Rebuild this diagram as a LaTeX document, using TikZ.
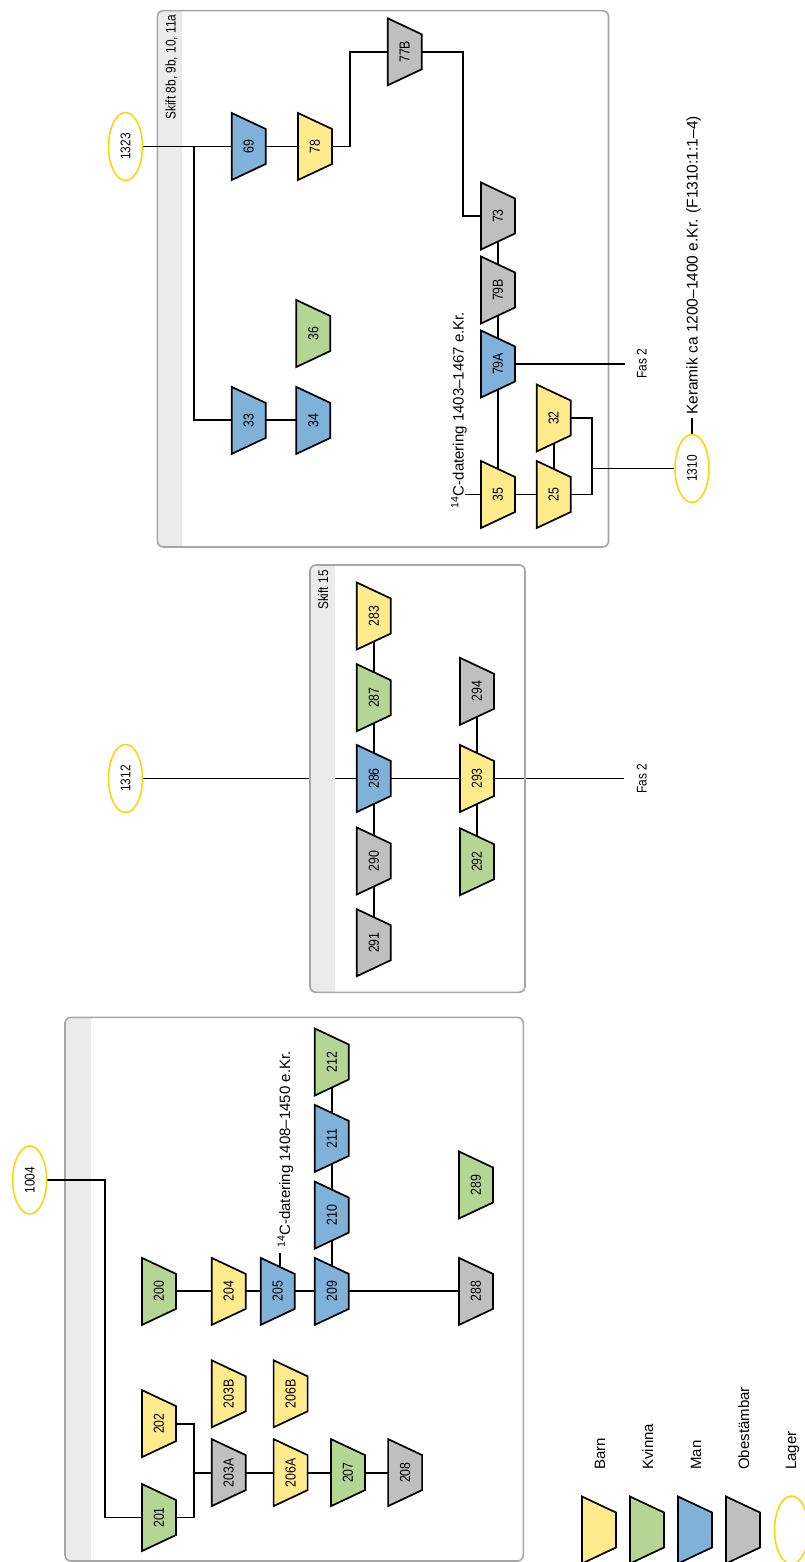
\documentclass[tikz,border=0pt]{standalone}
\usepackage{fontspec}
\setmainfont{Liberation Sans}
\newfontfamily\narrowfont[FakeStretch=0.85]{Liberation Sans}
\usetikzlibrary{shapes.geometric}
\pgfdeclarelayer{under}\pgfdeclarelayer{boxes}\pgfdeclarelayer{lines}
\pgfsetlayers{under,boxes,lines,main}
\definecolor{cyel}{HTML}{FFEB8C}
\definecolor{cgrn}{HTML}{B5D595}
\definecolor{cblu}{HTML}{80B1D8}
\definecolor{cgry}{HTML}{BFBFBF}
\definecolor{cgold}{HTML}{FFD300}
\definecolor{cbox}{HTML}{A6A6A6}
\definecolor{cband}{HTML}{EBEBEB}
\tikzset{
  trapline/.style={draw=black,line width=1.7pt,line join=miter},
  barn/.style={fill=cyel}, kvinna/.style={fill=cgrn}, man/.style={fill=cblu}, obest/.style={fill=cgry},
  lbl/.style={rotate=90,inner sep=0pt,font=\narrowfont\fontsize{14.5}{16}\selectfont},
  lager/.style={ellipse,rotate=90,draw=cgold,line width=1.5pt,fill=white,minimum width=68pt,minimum height=34pt,inner sep=0pt,font=\narrowfont\fontsize{14}{16}\selectfont},
  conn/.style={draw=black,line width=1.9pt},
  annot/.style={rotate=90,inner sep=0pt,anchor=base west,font=\fontsize{15}{18}\selectfont},
  small/.style={rotate=90,inner sep=0pt,font=\narrowfont\fontsize{14}{16}\selectfont},
  legtxt/.style={rotate=90,inner sep=0pt,anchor=base west,font=\fontsize{15}{18}\selectfont},
  boxline/.style={draw=cbox,line width=1.6pt,rounded corners=6pt},
}
\newcommand\trapnode[5]{%
  \path[trapline,#4] ({#2-17},{#3-33.5}) -- ({#2+17},{#3-17.5}) -- ({#2+17},{#3+17.5}) -- ({#2-17},{#3+33.5}) -- cycle;
  \node[lbl] (#1) at (#2,#3) {#5};}
\newcommand\skiftbox[5]{%
  \begin{pgfonlayer}{boxes}
  \begin{scope}
    \clip[rounded corners=6pt] (#1,#2) rectangle (#3,#4);
    \fill[cband] (#1,#2) rectangle (#5,#4);
  \end{scope}
  \path[boxline] (#1,#2) rectangle (#3,#4);
  \end{pgfonlayer}}
\begin{document}
\begin{tikzpicture}[x=1pt,y=-1pt]
\useasboundingbox (0,0) rectangle (805,1562);
\clip (0,0) rectangle (805,1562);
% boxes
\skiftbox{157.3}{10.7}{608.5}{547}{181.7}
\skiftbox{310}{565}{525}{992.3}{335}
\skiftbox{65}{1017.3}{523.3}{1561}{91}
\node[small,anchor=base east] (s3) at (175.5,14.5) {Skift 8b, 9b, 10, 11a};
\node[small,anchor=base east] (s2) at (328,570) {Skift 15};

% ---- box 3 ----
\node[lager] (e1323) at (125.5,146.5) {1323};
\trapnode{n69}{248.7}{146.5}{man}{69}
\trapnode{n78}{315}{146.5}{barn}{78}
\trapnode{n77B}{404.7}{51.8}{obest}{77B}
\trapnode{n73}{498}{216}{obest}{73}
\trapnode{n79B}{498}{290}{obest}{79B}
\trapnode{n79A}{498}{364}{man}{79A}
\trapnode{n35}{498}{494.5}{barn}{35}
\trapnode{n25}{553.7}{494.5}{barn}{25}
\trapnode{n32}{553.7}{418}{barn}{32}
\trapnode{n33}{248.7}{420.4}{man}{33}
\trapnode{n34}{313.3}{420.4}{man}{34}
\trapnode{n36}{313.3}{333.5}{kvinna}{36}
\node[lager] (e1310) at (692,468.5) {1310};
\coordinate (k78) at (350,51.8);
\coordinate (k77) at (463.3,216);
\coordinate (j1323) at (194.3,146.5);
\coordinate (k32) at (591.7,494.5);
\coordinate (fas3) at (625,364);
\coordinate (t35) at (465,494.5);
\coordinate (t1310) at (692,418);
\node[small,anchor=base] (f3) at (646.5,364) {Fas 2};
\node[annot] (a3) at (463.5,508.5) {\textsuperscript{14}C-datering 1403–1467 e.Kr.};
\node[annot,font=\fontsize{15.5}{18}\selectfont] (ak) at (697.5,415) {Keramik ca 1200–1400 e.Kr. (F1310:1:1–4)};
\begin{pgfonlayer}{lines}
\draw[conn] (e1323) -- (n69.center) -- (n78.center) -| (k78) -- (n77B.center) -| (k77) -- (n73.center) -- (n35.center);
\draw[conn] (j1323) |- (n33.center) -- (n34.center);
\draw[conn] (n79A.center) -- (fas3);
\draw[conn] (n35.center) -- (n25.center) -- (n32.center) -| (k32) -- (n25.center);
\draw[conn] (e1310) -- (k32 |- e1310);
\draw[conn] (t35) -- (n35.center);
\draw[conn] (e1310) -- (t1310);
\end{pgfonlayer}

% ---- box 2 ----
\node[lager] (e1312) at (125.5,778.5) {1312};
\trapnode{n283}{373.8}{616}{barn}{283}
\trapnode{n287}{373.8}{697.7}{kvinna}{287}
\trapnode{n286}{373.8}{778.5}{man}{286}
\trapnode{n290}{373.8}{861}{obest}{290}
\trapnode{n291}{373.8}{942.7}{obest}{291}
\trapnode{n294}{477}{691.3}{obest}{294}
\trapnode{n293}{477}{778.5}{barn}{293}
\trapnode{n292}{477}{861.7}{kvinna}{292}
\coordinate (fas2) at (624,778.5);
\node[small,anchor=base] (f2) at (646.5,778.5) {Fas 2};
\begin{pgfonlayer}{under}
\draw[conn] (e1312) -- (n286.center) -- (n293.center) -- (fas2);
\end{pgfonlayer}
\begin{pgfonlayer}{lines}
\draw[conn] (n283.center) -- (n291.center);
\draw[conn] (n294.center) -- (n292.center);
\end{pgfonlayer}

% ---- box 1 ----
\node[lager] (e1004) at (29.7,1180) {1004};
\trapnode{n201}{159}{1517.5}{kvinna}{201}
\trapnode{n202}{159}{1423.6}{barn}{202}
\trapnode{n203A}{228.7}{1472.6}{obest}{203A}
\trapnode{n206A}{290.6}{1472.6}{barn}{206A}
\trapnode{n207}{348}{1472.6}{kvinna}{207}
\trapnode{n208}{405.1}{1472.6}{obest}{208}
\trapnode{n203B}{228.7}{1393.8}{barn}{203B}
\trapnode{n206B}{290.6}{1393.8}{barn}{206B}
\trapnode{n200}{159}{1291.4}{kvinna}{200}
\trapnode{n204}{228.7}{1291.4}{barn}{204}
\trapnode{n205}{277.7}{1291.4}{man}{205}
\trapnode{n209}{331.8}{1291.4}{man}{209}
\trapnode{n210}{331.8}{1215.1}{man}{210}
\trapnode{n211}{331.8}{1138.4}{man}{211}
\trapnode{n212}{331.8}{1062}{kvinna}{212}
\trapnode{n289}{476}{1185}{kvinna}{289}
\trapnode{n288}{476}{1291.4}{obest}{288}
\coordinate (k1004) at (105,1517.5);
\coordinate (k201) at (194,1423.6);
\coordinate (t205) at (279.8,1252.5);
\node[annot] (a1) at (290,1248) {\textsuperscript{14}C-datering 1408–1450 e.Kr.};
\begin{pgfonlayer}{lines}
\draw[conn] (e1004) -| (k1004) -- (n201.center) -| (k201) -- (n202.center);
\draw[conn] (k201 |- n203A.center) -- (n208.center);
\draw[conn] (n200.center) -- (n288.center);
\draw[conn] (n209.center) -- (n212.center);
\draw[conn] (t205) -- (t205 |- n205.center);
\end{pgfonlayer}

% ---- legend ----
\trapnode{lgb}{599}{1530}{barn}{}
\trapnode{lgk}{647}{1530}{kvinna}{}
\trapnode{lgm}{695}{1530}{man}{}
\trapnode{lgo}{743}{1530}{obest}{}
\node[lager] (lgl) at (791.5,1530) {};
\node[legtxt] (tb) at (605,1470) {Barn};
\node[legtxt] (tk) at (653,1470) {Kvinna};
\node[legtxt] (tm) at (701,1470) {Man};
\node[legtxt] (to) at (749,1470) {Obestämbar};
\node[legtxt] (tl) at (796,1470) {Lager};
\end{tikzpicture}
\end{document}
